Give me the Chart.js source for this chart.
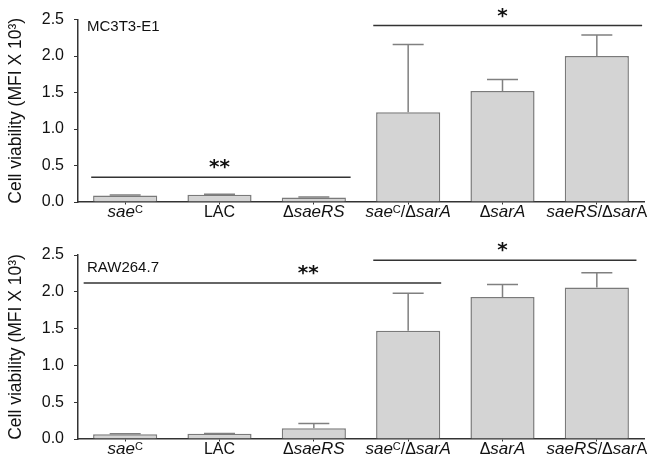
<!DOCTYPE html>
<html>
<head>
<meta charset="utf-8">
<script src="https://cdn.jsdelivr.net/npm/chart.js@4.4.1/dist/chart.umd.min.js"></script>
<style>
  html, body { margin: 0; padding: 0; background: #fff; }
  canvas { position: absolute; left: 0; }
  #topChart { top: 0; }
  #bottomChart { top: 232px; }
</style>
</head>
<body>
<canvas id="topChart" width="649" height="232"></canvas>
<canvas id="bottomChart" width="649" height="230"></canvas>
<script>
// Strains: _x_ = italic, ^x^ = superscript
const categories = ['_sae_^C^', 'LAC', 'Δ_saeRS_', '_sae_^C^/Δ_sarA_', 'Δ_sarA_', '_saeRS_/Δ_sar_A'];
const panelNames = ['MC3T3-E1', 'RAW264.7'];
const yTicks = [0, 0.5, 1.0, 1.5, 2.0, 2.5];

// MC3T3-E1 cell viability (MFI x 10^3), mean and SD
const mc3t3Means = [0.09, 0.10, 0.06, 1.23, 1.52, 2.00];
const mc3t3Errors = [0.005, 0.005, 0.01, 0.93, 0.16, 0.29];

// RAW264.7 cell viability
const rawMeans = [0.065, 0.07, 0.145, 1.47, 1.93, 2.06];
const rawErrors = [0.005, 0.005, 0.065, 0.51, 0.17, 0.20];

// significance brackets: category span, level, stars
const mc3t3Brackets = [
  { from: -0.36, to: 2.39, level: 0.34, stars: '**', starAt: 1.0, starLevel: 0.49 },
  { from: 2.63, to: 5.48, level: 2.42, stars: '*', starAt: 4.0, starLevel: 2.56 }
];
const rawBrackets = [
  { from: -0.44, to: 3.35, level: 2.12, stars: '**', starAt: 1.94, starLevel: 2.26 },
  { from: 2.63, to: 5.42, level: 2.43, stars: '*', starAt: 4.0, starLevel: 2.57 }
];

const FONT = "'Liberation Sans', Arial, sans-serif";
const plainLabels = categories.map(c => c.replace(/[_^]/g, ''));

function parseLabel(str) {
  const segs = [];
  let italic = false, sup = false, cur = '';
  for (const ch of str) {
    if (ch === '_' || ch === '^') {
      if (cur) segs.push({ text: cur, italic, sup });
      cur = '';
      if (ch === '_') italic = !italic; else sup = !sup;
    } else cur += ch;
  }
  if (cur) segs.push({ text: cur, italic, sup });
  return segs;
}

function segFont(s) {
  if (s.sup) return '11px ' + FONT;
  return s.italic ? 'italic 17px ' + FONT : '16px ' + FONT;
}

const extrasPlugin = {
  id: 'extras',
  afterDatasetsDraw(chart, args, opts) {
    const ctx = chart.ctx;
    const y = chart.scales.y;
    const meta = chart.getDatasetMeta(0);
    ctx.save();
    // error bars (upper only)
    ctx.strokeStyle = '#808080';
    ctx.lineWidth = 1.5;
    opts.errors.forEach((e, i) => {
      const bar = meta.data[i];
      const yTop = y.getPixelForValue(opts.means[i] + e);
      ctx.beginPath();
      ctx.moveTo(bar.x, bar.y);
      ctx.lineTo(bar.x, yTop);
      ctx.moveTo(bar.x - 15.5, yTop);
      ctx.lineTo(bar.x + 15.5, yTop);
      ctx.stroke();
    });
    ctx.restore();
  },
  afterDraw(chart, args, opts) {
    const ctx = chart.ctx;
    const x = chart.scales.x, y = chart.scales.y;
    const area = chart.chartArea;
    ctx.save();
    // brackets
    ctx.strokeStyle = '#333';
    ctx.lineWidth = 1.5;
    ctx.fillStyle = '#111';
    opts.brackets.forEach(b => {
      const py = y.getPixelForValue(b.level);
      ctx.beginPath();
      ctx.moveTo(x.getPixelForValue(b.from), py);
      ctx.lineTo(x.getPixelForValue(b.to), py);
      ctx.stroke();
      const fs = 20;
      ctx.font = 'bold ' + fs + "px 'DejaVu Sans'";
      ctx.textAlign = 'center';
      ctx.textBaseline = 'alphabetic';
      ctx.fillText(b.stars, x.getPixelForValue(b.starAt), y.getPixelForValue(b.starLevel) + 0.58 * fs - 5);
    });
    // panel name
    ctx.font = '15px ' + FONT;
    ctx.textAlign = 'left';
    ctx.textBaseline = 'middle';
    ctx.fillStyle = '#111';
    ctx.fillText(opts.name, area.left + 9, area.top + opts.nameOffset);
    // category labels with mixed styles
    ctx.textBaseline = 'alphabetic';
    categories.forEach((c, i) => {
      const segs = parseLabel(c);
      let total = 0;
      segs.forEach(s => { ctx.font = segFont(s); s.w = ctx.measureText(s.text).width; total += s.w; });
      let cx = x.getPixelForValue(i) - total / 2;
      const base = area.bottom + opts.labelOffset;
      segs.forEach(s => {
        ctx.font = segFont(s);
        ctx.fillText(s.text, cx, s.sup ? base - 4 : base);
        cx += s.w;
      });
    });
    ctx.restore();
  }
};

function makePanel(id, means, errors, brackets, name, pad, xHeight, nameOffset, labelOffset) {
  return new Chart(document.getElementById(id), {
    type: 'bar',
    data: {
      labels: plainLabels,
      datasets: [{
        data: means,
        backgroundColor: '#d4d4d4',
        borderColor: '#7a7a7a',
        borderWidth: 1.5,
        barPercentage: 0.68,
        categoryPercentage: 1.0
      }]
    },
    options: {
      responsive: false,
      animation: false,
      layout: { padding: { top: pad, right: 5, left: 0, bottom: 0 } },
      scales: {
        x: {
          ticks: { display: false },
          grid: { drawOnChartArea: false, drawTicks: true, tickLength: 2.5, offset: false, color: '#333' },
          border: { display: true, color: '#333', width: 1.5 },
          afterFit: s => { s.height = xHeight; }
        },
        y: {
          min: 0,
          max: 2.5,
          afterBuildTicks: s => { s.ticks = yTicks.map(v => ({ value: v })); },
          ticks: {
            callback: v => v.toFixed(1),
            color: '#111',
            font: { family: FONT, size: 16 },
            padding: 10
          },
          grid: { drawOnChartArea: false, drawTicks: true, tickLength: 4, color: '#333' },
          border: { display: true, color: '#333', width: 1.5 },
          title: {
            display: true,
            text: 'Cell viability (MFI X 10³)',
            color: '#111',
            font: { family: FONT, size: 17.5 },
            padding: { top: 6, bottom: 0 }
          },
          afterFit: s => { s.width = 78; }
        }
      },
      plugins: {
        legend: { display: false },
        tooltip: { enabled: false },
        extras: { means, errors, brackets, name, nameOffset, labelOffset }
      }
    },
    plugins: [extrasPlugin]
  });
}

makePanel('topChart', mc3t3Means, mc3t3Errors, mc3t3Brackets, panelNames[0], 18, 30, 7, 15);
makePanel('bottomChart', rawMeans, rawErrors, rawBrackets, panelNames[1], 23, 23, 13, 15);
</script>
</body>
</html>
